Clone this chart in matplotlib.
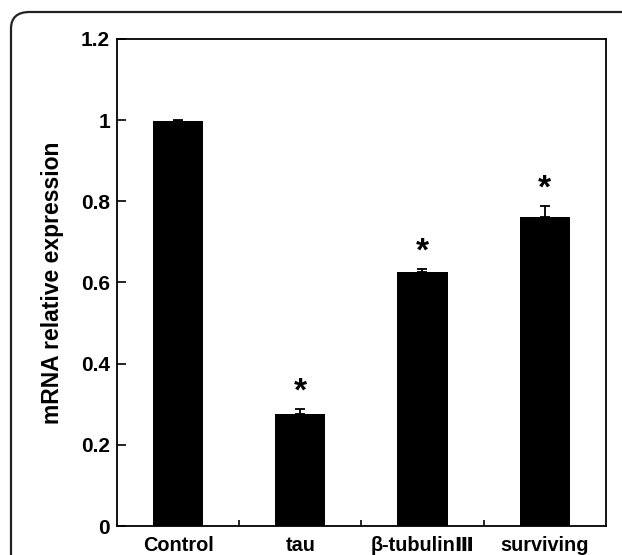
import matplotlib.pyplot as plt
import numpy as np
from matplotlib.patches import FancyBboxPatch

categories = ['Control', 'tau', 'β-tubulinⅢ', 'surviving']
values = [0.998, 0.276, 0.626, 0.762]
errors = [0.003, 0.012, 0.007, 0.026]
marked = [False, True, True, True]
yticks = [0, 0.2, 0.4, 0.6, 0.8, 1.0, 1.2]
ytick_labels = ['0', '0.2', '0.4', '0.6', '0.8', '1', '1.2']

plt.rcParams['font.family'] = ['Liberation Sans', 'DejaVu Sans']
plt.rcParams['font.weight'] = 'bold'

fig = plt.figure(figsize=(6.22, 5.55), dpi=100)
ax = fig.add_axes([0.188, 0.052, 0.786, 0.878])

# rounded frame around the whole panel
frame = FancyBboxPatch((11 / 622, -0.2), 1.2, 1 - 12 / 555 + 0.2,
                       boxstyle='round,pad=0,rounding_size=0.03',
                       transform=fig.transFigure, fill=False,
                       edgecolor='#222222', linewidth=1.6, clip_on=False)
fig.patches.append(frame)

x = np.arange(len(categories))
ax.bar(x, values, width=0.41, color='black', zorder=2)
ax.errorbar(x, values, yerr=[np.zeros(len(errors)), errors], fmt='none',
            ecolor='black', elinewidth=1.3, capsize=3.3, capthick=1.3, zorder=3)

for xi, v, e, m in zip(x, values, errors, marked):
    if m:
        ax.annotate('*', (xi, v + e), xytext=(0, 1), textcoords='offset points',
                    ha='center', va='bottom', fontsize=24, fontweight='bold')

ax.set_xlim(-0.5, len(categories) - 0.5)
ax.set_ylim(0, 1.2)
ax.set_yticks(yticks)
ax.set_yticklabels(ytick_labels)
ax.set_xticks(x)
ax.set_xticklabels(categories)
ax.set_xticks(x[:-1] + 0.5, minor=True)

ax.tick_params(axis='x', which='major', length=0, pad=7, labelsize=14.3)
ax.tick_params(axis='x', which='minor', direction='in', length=4.5, width=1.2)
ax.tick_params(axis='y', direction='in', length=6.5, width=1.2, pad=5,
               labelsize=15)
for lab in ax.get_xticklabels() + ax.get_yticklabels():
    lab.set_fontweight('bold')

for s in ax.spines.values():
    s.set_linewidth(1.3)

ax.set_ylabel('mRNA relative expression', fontsize=16.5, fontweight='bold',
              labelpad=12)

fig.savefig('out.png', dpi=100)
